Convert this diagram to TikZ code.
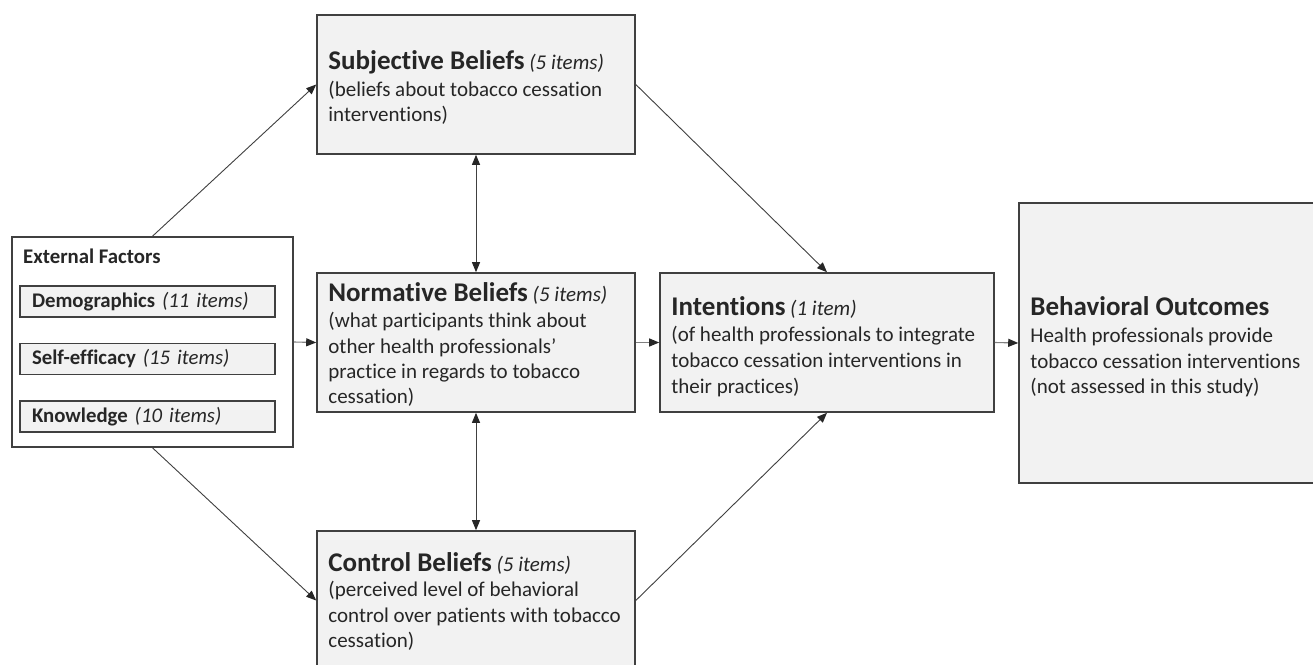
\documentclass[tikz,border=0pt]{standalone}
\usepackage{fontspec}
\setmainfont{Carlito}[Ligatures={NoCommon}]
\usetikzlibrary{arrows.meta}
\definecolor{boxfill}{HTML}{F2F2F2}
\definecolor{edgec}{HTML}{404040}
\definecolor{txtc}{HTML}{262626}
\definecolor{hlinec}{HTML}{808080}
\newcommand{\ttlfont}[1]{{\fontsize{27}{28}\selectfont\bfseries #1}}
\newcommand{\itmtext}[1]{{\itshape #1}}
\tikzset{
  boxshape/.style={draw=edgec, line width=1.6pt, fill=boxfill, rectangle, inner sep=0pt},
  boxtext/.style={anchor=west, inner sep=0pt, align=left, text=txtc,
    font=\fontsize{21}{25.2}\selectfont},
  smallbox/.style={draw=edgec, line width=1.6pt, fill=boxfill, rectangle,
    minimum width=255pt, minimum height=31pt, text width=231pt,
    inner xsep=12pt, inner ysep=0pt, align=left, text=txtc,
    font=\fontsize{20.8}{24}\selectfont},
  arr/.style={draw=edgec, line width=0.9pt, -{Triangle[length=10pt,width=8pt,color=txtc]}},
  harr/.style={draw=hlinec, line width=1.1pt, -{Triangle[length=10pt,width=8pt,color=txtc]}},
  darr/.style={draw=edgec, line width=0.9pt,
    {Triangle[length=10pt,width=8pt,color=txtc]}-{Triangle[length=10pt,width=8pt,color=txtc]}},
}
\begin{document}
\begin{tikzpicture}[x=1pt,y=-1pt]
\clip (0,0) rectangle (1313,664);
\fill[white] (0,0) rectangle (1313,664);

% External factors
\node[draw=edgec, line width=1.6pt, fill=white, minimum width=281pt, minimum height=210pt, inner sep=0pt] (ext) at (152.5,342) {};
\node[anchor=base west, inner sep=0pt, text=txtc, font=\fontsize{20.8}{24}\selectfont\bfseries] (extlbl) at (23,263) {External Factors};
\node[smallbox] (demo) at (147.5,301.5) {\textbf{Demographics} \itmtext{(11 items)}};
\node[smallbox] (self) at (147.5,359) {\textbf{Self-efficacy} \itmtext{(15 items)}};
\node[smallbox] (know) at (147.5,416.5) {\textbf{Knowledge} \itmtext{(10 items)}};

% Boxes
\node[boxshape, minimum width=318pt, minimum height=139pt] (subj) at (476,84.5) {};
\node[boxshape, minimum width=318pt, minimum height=139pt] (norm) at (476,342.5) {};
\node[boxshape, minimum width=318pt, minimum height=139pt] (ctrl) at (476,600.5) {};
\node[boxshape, minimum width=334pt, minimum height=139pt] (intent) at (827,342.5) {};
\node[boxshape, minimum width=296pt, minimum height=280pt] (behav) at (1167,343) {};

% Texts
\node[boxtext] (subjtxt) at ([xshift=12pt,yshift=-3pt]subj.west)
  {\ttlfont{Subjective Beliefs} \itmtext{(5 items)}\\[2.5pt]
   (beliefs about tobacco cessation\\
   interventions)};
\node[boxtext] (normtxt) at ([xshift=12pt,yshift=-2pt]norm.west)
  {\ttlfont{Normative Beliefs} \itmtext{(5 items)}\\[1pt]
   (what participants think about\\
   other health professionals’\\
   practice in regards to tobacco\\
   cessation)};
\node[boxtext] (ctrltxt) at ([xshift=12pt,yshift=-1pt]ctrl.west)
  {\ttlfont{Control Beliefs} \itmtext{(5 items)}\\[0pt]
   (perceived level of behavioral\\
   control over patients with tobacco\\
   cessation)};
\node[boxtext, font=\fontsize{21}{25.8}\selectfont] (intenttxt) at ([xshift=12pt,yshift=-4pt]intent.west)
  {\ttlfont{Intentions} \itmtext{(1 item)}\\[1pt]
   (of health professionals to integrate\\
   tobacco cessation interventions in\\
   their practices)};
\node[boxtext, font=\fontsize{21}{25.8}\selectfont] (behavtxt) at ([xshift=12pt,yshift=-4pt]behav.west)
  {\ttlfont{Behavioral Outcomes}\\[1pt]
   Health professionals provide\\
   tobacco cessation interventions\\
   (not assessed in this study)};

% Connectors
\draw[arr] (ext.north) -- (subj.west);
\draw[arr] (ext.south) -- (ctrl.west);
\draw[harr] (ext.east) -- (norm.west);
\draw[harr] (norm.east) -- (intent.west);
\draw[harr] (intent.east) -- (behav.west);
\draw[arr] (subj.east) -- (intent.north);
\draw[arr] (ctrl.east) -- (intent.south);
\draw[darr] (subj.south) -- (norm.north);
\draw[darr] (norm.south) -- (ctrl.north);
\end{tikzpicture}
\end{document}
